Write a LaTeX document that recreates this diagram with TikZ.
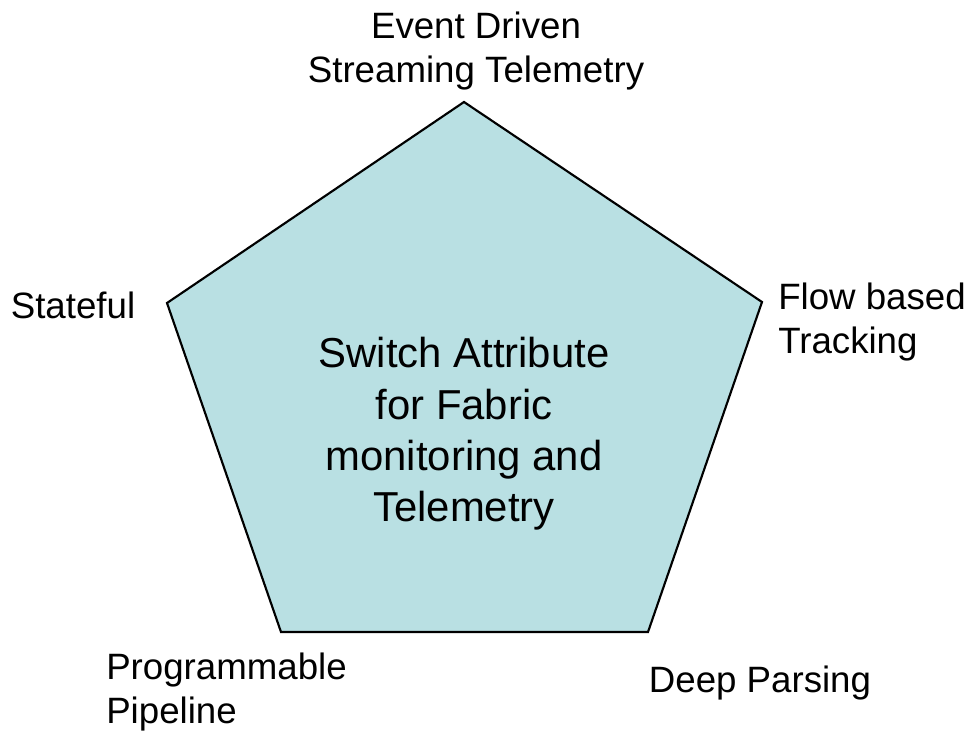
\documentclass[tikz,border=0pt]{standalone}
\usepackage{fontspec}
\setmainfont{Liberation Sans}
\definecolor{pentfill}{RGB}{185,224,227}
\begin{document}
\begin{tikzpicture}[x=0.75pt,y=-0.75pt,
  lbl/.style={inner sep=0pt,font=\fontsize{27.5}{33}\selectfont},
  ctr/.style={inner sep=0pt,align=center,font=\fontsize{31.4}{38.5}\selectfont}]
\useasboundingbox (0,0) rectangle (971,732);
\coordinate (pt) at (464,102);
\coordinate (pr) at (762,302);
\coordinate (pbr) at (648,632);
\coordinate (pbl) at (281,632);
\coordinate (pl) at (167,303);
\draw[fill=pentfill,line width=1.6pt,line join=miter] (pt) -- (pr) -- (pbr) -- (pbl) -- (pl) -- cycle;
\node[ctr] (center) at (464,434) {Switch Attribute\\for Fabric\\monitoring and\\Telemetry};
\node[lbl,align=center] (top) at (476,51) {Event Driven\\Streaming Telemetry};
\node[lbl] (state) at (73,305) {Stateful};
\node[lbl,align=left,anchor=west] (flow) at (778,322) {Flow based\\Tracking};
\node[lbl,align=left,anchor=west] (prog) at (106,692) {Programmable\\Pipeline};
\node[lbl] (deep) at (760,683) {Deep Parsing};
\end{tikzpicture}
\end{document}
